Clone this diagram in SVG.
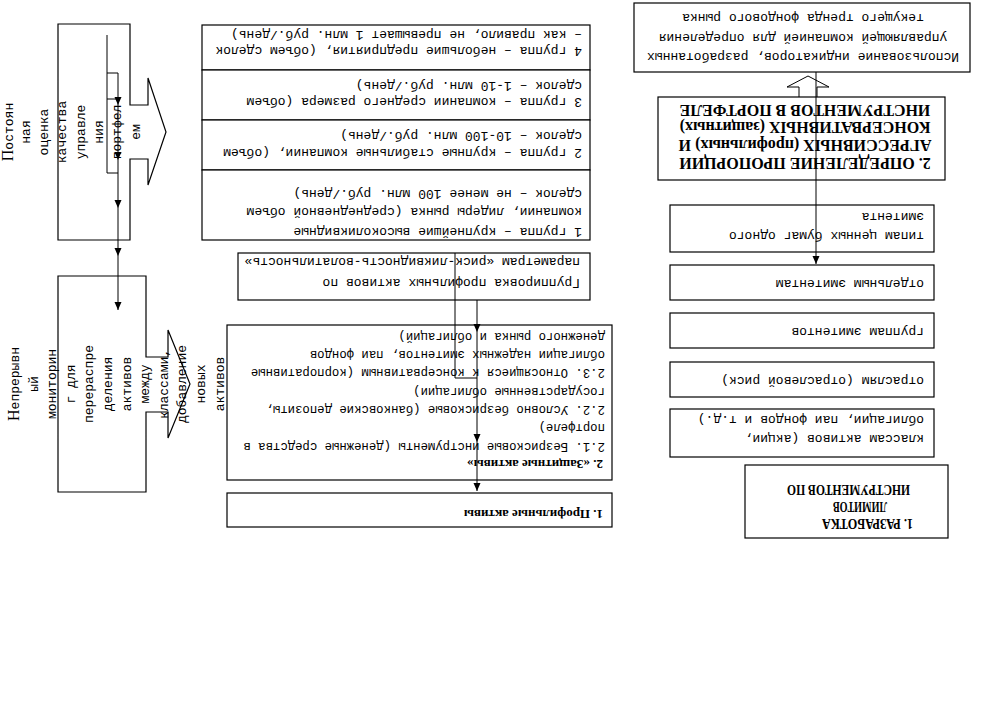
<svg xmlns="http://www.w3.org/2000/svg" width="995" height="709" viewBox="0 0 995 709">
<style>
.box{fill:#fff;stroke:#000;stroke-width:1.2}
.ln{fill:none;stroke:#000;stroke-width:1}
.t{font-family:"Liberation Mono","DejaVu Sans Mono",monospace;font-size:13px;fill:#000}
.ts{font-size:12.3px}
.b{font-family:"Liberation Serif","Times New Roman",serif;font-weight:bold;fill:#000}
.cap{font-family:"Liberation Serif","Times New Roman",serif;font-size:16px}
</style>
<defs>
<marker id="ah" markerUnits="userSpaceOnUse" markerWidth="8" markerHeight="8" refX="8" refY="4" orient="auto"><path d="M0,0.5 L8,4 L0,7.5 z" fill="#000"/></marker>
</defs>
<rect width="995" height="709" fill="#fff"/>

<g id="n-indicators">
<rect class="box" x="634" y="3" width="336" height="69"/>
<text class="t" text-anchor="middle" x="803" y="53" transform="rotate(180 803 53)">Использование индикаторов, разработанных</text>
<text class="t" text-anchor="middle" x="803" y="34" transform="rotate(180 803 34)">управляющей компанией для определения</text>
<text class="t" text-anchor="middle" x="803" y="14" transform="rotate(180 803 14)">текущего тренда фондового рынка</text>
</g>

<g id="n-proportions">
<rect class="box" x="658" y="97" width="287" height="83"/>
<text class="b" font-size="16" text-anchor="middle" x="805" y="158" transform="rotate(180 805 158)">2. ОПРЕДЕЛЕНИЕ ПРОПОРЦИИ</text>
<text class="b" font-size="16" text-anchor="middle" x="805" y="140" transform="rotate(180 805 140)">АГРЕССИВНЫХ (профильных) И</text>
<text class="b" font-size="16" text-anchor="middle" x="805" y="122" transform="rotate(180 805 122)">КОНСЕРВАТИВНЫХ (защитных)</text>
<text class="b" font-size="16" text-anchor="middle" x="805" y="105" transform="rotate(180 805 105)">ИНСТРУМЕНТОВ В ПОРТФЕЛЕ</text>
</g>

<g id="n-securities">
<rect class="box" x="670" y="205" width="264" height="47"/>
<text class="t" x="924" y="232" transform="rotate(180 924 232)">типам ценных бумаг одного</text>
<text class="t" x="924" y="213" transform="rotate(180 924 213)">эмитента</text>
</g>
<g id="n-issuers">
<rect class="box" x="670" y="265" width="264" height="35"/>
<text class="t" x="924" y="280" transform="rotate(180 924 280)">отдельным эмитентам</text>
</g>
<g id="n-issuer-groups">
<rect class="box" x="670" y="313" width="264" height="35"/>
<text class="t" x="924" y="328" transform="rotate(180 924 328)">группам эмитентов</text>
</g>
<g id="n-industries">
<rect class="box" x="670" y="362" width="264" height="35"/>
<text class="t" x="924" y="377" transform="rotate(180 924 377)">отраслям (отраслевой риск)</text>
</g>
<g id="n-classes">
<rect class="box" x="670" y="409" width="264" height="48"/>
<text class="t" x="924" y="435" transform="rotate(180 924 435)">классам активов (акции,</text>
<text class="t" x="924" y="416" transform="rotate(180 924 416)">облигации, паи фондов и т.д.)</text>
</g>
<g id="n-limits">
<rect class="box" x="745" y="465" width="203" height="73"/>
<text class="b" font-size="15" x="913" y="519" textLength="91" lengthAdjust="spacingAndGlyphs" transform="rotate(180 913 519)">1. РАЗРАБОТКА</text>
<text class="b" font-size="15" x="887" y="502" textLength="54" lengthAdjust="spacingAndGlyphs" transform="rotate(180 887 502)">ЛИМИТОВ</text>
<text class="b" font-size="15" x="910" y="485" textLength="123" lengthAdjust="spacingAndGlyphs" transform="rotate(180 910 485)">ИНСТРУМЕНТОВ ПО</text>
</g>

<g id="n-group4">
<rect class="box" x="202" y="25" width="388" height="45"/>
<text class="t" x="582" y="47" transform="rotate(180 582 47)">4 группа – небольшие предприятия, (объем сделок</text>
<text class="t" x="582" y="31" transform="rotate(180 582 31)">– как правило, не превышает 1 млн. руб./день)</text>
</g>
<g id="n-group3">
<rect class="box" x="202" y="70" width="388" height="50"/>
<text class="t" x="582" y="98" transform="rotate(180 582 98)">3 группа – компании среднего размера (объем</text>
<text class="t" x="582" y="82" transform="rotate(180 582 82)">сделок – 1-10 млн. руб./день)</text>
</g>
<g id="n-group2">
<rect class="box" x="202" y="120" width="388" height="50"/>
<text class="t" x="582" y="149" transform="rotate(180 582 149)">2 группа – крупные стабильные компании, (объем</text>
<text class="t" x="582" y="132" transform="rotate(180 582 132)">сделок – 10-100 млн. руб./день)</text>
</g>
<g id="n-group1">
<rect class="box" x="202" y="170" width="388" height="70"/>
<text class="t" x="582" y="228" transform="rotate(180 582 228)">1 группа – крупнейшие высоколиквидные</text>
<text class="t" x="582" y="208" transform="rotate(180 582 208)">компании, лидеры рынка (среднедневной объем</text>
<text class="t" x="582" y="190" transform="rotate(180 582 190)">сделок – не менее 100 млн. руб./день)</text>
</g>
<g id="n-grouping">
<rect class="box" x="238" y="253" width="352" height="47"/>
<text class="t" x="580" y="279" transform="rotate(180 580 279)">Группировка профильных активов по</text>
<text class="t" x="580" y="258" transform="rotate(180 580 258)">параметрам «риск-ликвидность-волатильность»</text>
</g>
<g id="n-protective">
<rect class="box" x="227" y="325" width="385" height="155"/>
<text class="b" font-size="13" x="603" y="460" transform="rotate(180 603 460)">2. «Защитные активы»</text>
<text class="t ts" x="605" y="443" transform="rotate(180 605 443)">2.1. Безрисковые инструменты (денежные средства в</text>
<text class="t ts" x="605" y="424" transform="rotate(180 605 424)">портфеле)</text>
<text class="t ts" x="605" y="406" transform="rotate(180 605 406)">2.2. Условно безрисковые (банковские депозиты,</text>
<text class="t ts" x="605" y="388" transform="rotate(180 605 388)">государственные облигации)</text>
<text class="t ts" x="605" y="369" transform="rotate(180 605 369)">2.3. Относящиеся к консервативным (корпоративные</text>
<text class="t ts" x="605" y="351" transform="rotate(180 605 351)">облигации надежных эмитентов, паи фондов</text>
<text class="t ts" x="605" y="333" transform="rotate(180 605 333)">денежного рынка и облигаций)</text>
</g>
<g id="n-profile">
<rect class="box" x="227" y="493" width="385" height="34"/>
<text class="b" font-size="13" x="603" y="510" transform="rotate(180 603 510)">1. Профильные активы</text>
</g>

<g id="n-quality">
<path class="box" d="M130,105 V24 H58 V240 H130 V159 H148 V185 L166,132 L148,78 V105 Z"/>
<text class="t" text-anchor="middle" x="13" y="132" transform="rotate(-90 13 132)"><tspan class="cap">П</tspan>остоян</text>
<text class="t" text-anchor="middle" x="29.8" y="132" transform="rotate(-90 29.8 132)">ная</text>
<text class="t" text-anchor="middle" x="48.1" y="132" transform="rotate(-90 48.1 132)">оценка</text>
<text class="t" text-anchor="middle" x="66.4" y="132" transform="rotate(-90 66.4 132)">качества</text>
<text class="t" text-anchor="middle" x="84.7" y="132" transform="rotate(-90 84.7 132)">управле</text>
<text class="t" text-anchor="middle" x="103" y="132" transform="rotate(-90 103 132)">ния</text>
<text class="t" text-anchor="middle" x="121.3" y="132" transform="rotate(-90 121.3 132)">портфел</text>
<text class="t" text-anchor="middle" x="139.6" y="132" transform="rotate(-90 139.6 132)">ем</text>
</g>
<g id="n-monitoring">
<path class="box" d="M146,357 V276 H58 V492 H146 V412 H168 V438 L190,384 L168,330 V357 Z"/>
<text class="t" text-anchor="middle" x="19" y="384" transform="rotate(-90 19 384)"><tspan class="cap">Н</tspan>епрерывн</text>
<text class="t" text-anchor="middle" x="37.6" y="384" transform="rotate(-90 37.6 384)">ый</text>
<text class="t" text-anchor="middle" x="56.2" y="384" transform="rotate(-90 56.2 384)">мониторин</text>
<text class="t" text-anchor="middle" x="74.8" y="384" transform="rotate(-90 74.8 384)">г для</text>
<text class="t" text-anchor="middle" x="93.4" y="384" transform="rotate(-90 93.4 384)">перераспре</text>
<text class="t" text-anchor="middle" x="112" y="384" transform="rotate(-90 112 384)">деления</text>
<text class="t" text-anchor="middle" x="130.6" y="384" transform="rotate(-90 130.6 384)">активов</text>
<text class="t" text-anchor="middle" x="149.2" y="384" transform="rotate(-90 149.2 384)">между</text>
<text class="t" text-anchor="middle" x="167.8" y="384" transform="rotate(-90 167.8 384)">классами,</text>
<text class="t" text-anchor="middle" x="186.4" y="384" transform="rotate(-90 186.4 384)">добавление</text>
<text class="t" text-anchor="middle" x="205" y="384" transform="rotate(-90 205 384)">новых</text>
<text class="t" text-anchor="middle" x="223.6" y="384" transform="rotate(-90 223.6 384)">активов</text>
</g>

<g id="connectors">
<path class="ln" d="M799,97 V87 H787 L808,76 L829,87 H817 V97"/>
<line class="ln" x1="816" y1="72" x2="816" y2="264" marker-end="url(#ah)"/>
<path class="ln" d="M455,253 V378 H477"/>
<line class="ln" x1="477" y1="300" x2="477" y2="332" marker-end="url(#ah)"/>
<line class="ln" x1="477" y1="332" x2="477" y2="442" marker-end="url(#ah)"/>
<line class="ln" x1="477" y1="442" x2="477" y2="491" marker-end="url(#ah)"/>
<line class="ln" x1="107" y1="35" x2="107" y2="173"/>
<path class="ln" d="M107,73 H118 M107,99 H118 M107,173 H118"/>
<line class="ln" x1="118" y1="73" x2="118" y2="105" marker-end="url(#ah)"/>
<line class="ln" x1="118" y1="105" x2="118" y2="160" marker-end="url(#ah)"/>
<line class="ln" x1="118" y1="160" x2="118" y2="208" marker-end="url(#ah)"/>
<line class="ln" x1="118" y1="208" x2="118" y2="256" marker-end="url(#ah)"/>
<line class="ln" x1="118" y1="256" x2="118" y2="310" marker-end="url(#ah)"/>
</g>
</svg>
